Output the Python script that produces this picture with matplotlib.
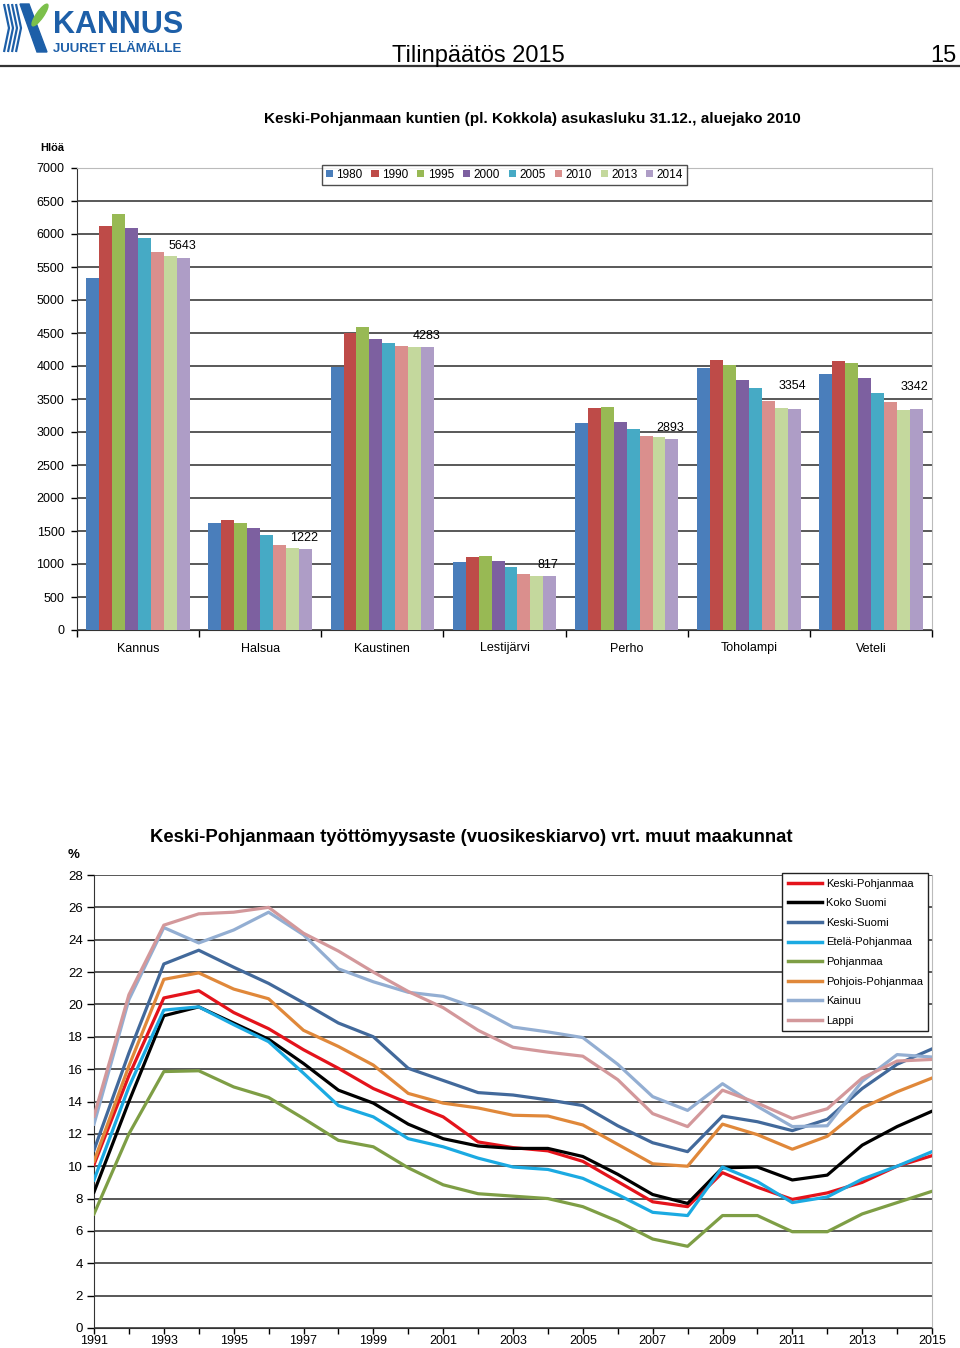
import numpy as np
import matplotlib
matplotlib.use('Agg')
import matplotlib.pyplot as plt
from matplotlib import patches

plt.rcParams['font.family'] = ['Liberation Sans', 'DejaVu Sans']

# --- population by municipality (bar chart) ---
municipalities = ['Kannus', 'Halsua', 'Kaustinen', 'Lestijärvi', 'Perho', 'Toholampi', 'Veteli']
bar_years = ['1980', '1990', '1995', '2000', '2005', '2010', '2013', '2014']
pop_1980 = [5340, 1620, 3985, 1035, 3135, 3970, 3885]
pop_1990 = [6125, 1665, 4500, 1110, 3370, 4085, 4070]
pop_1995 = [6305, 1620, 4585, 1125, 3385, 4010, 4040]
pop_2000 = [6095, 1550, 4405, 1040, 3150, 3795, 3815]
pop_2005 = [5940, 1435, 4350, 955, 3040, 3660, 3585]
pop_2010 = [5730, 1290, 4305, 850, 2940, 3475, 3455]
pop_2013 = [5670, 1235, 4290, 820, 2920, 3370, 3330]
pop_2014 = [5643, 1222, 4283, 817, 2893, 3354, 3342]
bar_colors = ['#4A7EBB', '#BE4B48', '#98B954', '#7D60A0', '#46AAC5', '#DA8F8D', '#C4D89D', '#AE9DC6']
# extra lift (points) for the value labels that Excel pushed up
label_lift = [0, 0, 0, 0, 0, 8, 8]

# --- unemployment rate (line chart) ---
years = [1991, 1992, 1993, 1994, 1995, 1996, 1997, 1998, 1999, 2000, 2001, 2002, 2003,
         2004, 2005, 2006, 2007, 2008, 2009, 2010, 2011, 2012, 2013, 2014, 2015]
keski_pohjanmaa = [10.1, 15.6, 20.4, 20.85, 19.5, 18.5, 17.2, 16.05, 14.8, 13.9, 13.05, 11.5, 11.15,
                   10.95, 10.3, 9.05, 7.8, 7.5, 9.6, 8.7, 7.95, 8.35, 9.0, 10.0, 10.65]
koko_suomi = [8.4, 14.0, 19.3, 19.85, 18.85, 17.85, 16.35, 14.7, 13.9, 12.6, 11.7, 11.25, 11.1,
              11.1, 10.6, 9.5, 8.25, 7.7, 9.9, 9.95, 9.15, 9.45, 11.3, 12.45, 13.4]
keski_suomi = [11.0, 17.0, 22.5, 23.35, 22.3, 21.3, 20.1, 18.85, 18.0, 16.05, 15.3, 14.55, 14.4,
               14.1, 13.75, 12.5, 11.45, 10.9, 13.1, 12.75, 12.2, 12.9, 14.8, 16.3, 17.25]
etela_pohjanmaa = [9.15, 14.9, 19.65, 19.85, 18.75, 17.7, 15.75, 13.75, 13.05, 11.7, 11.2, 10.5, 9.95,
                   9.8, 9.25, 8.25, 7.15, 6.95, 9.95, 9.05, 7.75, 8.1, 9.2, 10.0, 10.9]
pohjanmaa = [7.05, 12.0, 15.85, 15.9, 14.9, 14.25, 12.95, 11.6, 11.2, 9.9, 8.85, 8.3, 8.15,
             8.0, 7.5, 6.6, 5.5, 5.05, 6.95, 6.95, 5.95, 5.95, 7.05, 7.75, 8.45]
pohjois_pohjanmaa = [10.3, 16.2, 21.55, 21.95, 20.95, 20.35, 18.4, 17.4, 16.25, 14.5, 13.9, 13.6, 13.15,
                     13.1, 12.55, 11.35, 10.15, 10.0, 12.6, 11.95, 11.05, 11.85, 13.6, 14.6, 15.45]
kainuu = [12.6, 20.3, 24.75, 23.8, 24.6, 25.7, 24.3, 22.2, 21.4, 20.75, 20.5, 19.75, 18.6,
          18.3, 17.95, 16.3, 14.3, 13.45, 15.1, 13.7, 12.45, 12.5, 15.25, 16.9, 16.75]
lappi = [13.1, 20.6, 24.9, 25.6, 25.7, 26.0, 24.4, 23.3, 22.0, 20.8, 19.8, 18.4, 17.35,
         17.05, 16.8, 15.35, 13.25, 12.45, 14.7, 13.9, 12.95, 13.55, 15.45, 16.5, 16.6]
region_names = ['Keski-Pohjanmaa', 'Koko Suomi', 'Keski-Suomi', 'Etelä-Pohjanmaa',
                'Pohjanmaa', 'Pohjois-Pohjanmaa', 'Kainuu', 'Lappi']
region_colors = ['#E4131B', '#000000', '#42699B', '#1BAAE2', '#7E9E45', '#E0883A', '#93AED2', '#D3989B']

W, H = 960, 1348
fig = plt.figure(figsize=(W / 100, H / 100), dpi=100)

def fx(px):
    return px / W

def fy(py):
    return 1 - py / H

# overlay in pixel coords for the page header / logo
ov = fig.add_axes([0, 0, 1, 1])
ov.set_xlim(0, W)
ov.set_ylim(H, 0)
ov.axis('off')

logo_blue = '#1D5FA8'
for k in range(4):
    x0 = 4 + k * 4
    ov.plot([x0, x0 + 5, x0], [4, 28, 52], color=logo_blue, lw=1.6, solid_capstyle='butt')
ov.add_patch(patches.Polygon([(20, 4), (29, 4), (47, 52), (37, 52)], closed=True, color=logo_blue))
ov.add_patch(patches.Ellipse((40, 15), 7, 26, angle=35, color='#7CC04B'))
ov.text(53, 33, 'KANNUS', fontsize=22, fontweight='bold', color=logo_blue, ha='left', va='baseline')
ov.text(53, 52, 'JUURET ELÄMÄLLE', fontsize=9.5, fontweight='bold', color=logo_blue, ha='left', va='baseline')
ov.text(478, 62, 'Tilinpäätös 2015', fontsize=17, ha='center', va='baseline')
ov.text(957, 62, '15', fontsize=17, ha='right', va='baseline')
ov.plot([0, 960], [65.5, 65.5], color='#333333', lw=1.6)

# --- bar chart ---
ax1 = fig.add_axes([fx(77), fy(630), fx(855), 462 / H])
series = [pop_1980, pop_1990, pop_1995, pop_2000, pop_2005, pop_2010, pop_2013, pop_2014]
x = np.arange(len(municipalities))
n = len(series)
bw = 0.106
for i, (lab, vals, col) in enumerate(zip(bar_years, series, bar_colors)):
    pos = x + (i - (n - 1) / 2) * bw
    ax1.bar(pos, vals, bw, color=col, label=lab, zorder=3)
    if lab == '2014':
        for xi, v, lift in zip(pos, vals, label_lift):
            ax1.annotate(str(v), (xi, v), xytext=(-1, 4 + lift), textcoords='offset points',
                         ha='center', va='bottom', fontsize=9, zorder=4)

ax1.set_xlim(-0.5, len(municipalities) - 0.5)
ax1.set_ylim(0, 7000)
ax1.set_yticks(np.arange(0, 7001, 500))
ax1.tick_params(axis='y', labelsize=9, length=4, width=1, pad=5)
ax1.set_xticks(x)
ax1.set_xticklabels(municipalities)
ax1.set_xticks(np.arange(-0.5, len(municipalities)), minor=True)
ax1.tick_params(axis='x', which='major', length=0, labelsize=9, pad=9)
ax1.tick_params(axis='x', which='minor', length=5, width=1)
ax1.yaxis.grid(True, color='#3c3c3c', lw=1.2, zorder=0)
ax1.set_axisbelow(True)
ax1.spines['top'].set_color('#bbbbbb')
ax1.spines['right'].set_color('#bbbbbb')
ax1.spines['left'].set_color('#333333')
ax1.spines['bottom'].set_color('#333333')
leg1 = ax1.legend(loc='upper center', bbox_to_anchor=(0.5, 1.007), ncol=8, fontsize=8.5,
                  frameon=True, fancybox=False, handlelength=0.6, handleheight=0.6,
                  handletextpad=0.3, columnspacing=0.75, borderpad=0.35, borderaxespad=0)
leg1.get_frame().set_edgecolor('#222222')
leg1.get_frame().set_linewidth(1)

fig.text(fx(532), fy(119), 'Keski-Pohjanmaan kuntien (pl. Kokkola) asukasluku 31.12., aluejako 2010',
         ha='center', va='center', fontsize=11, fontweight='bold')
fig.text(fx(52), fy(148), 'Hlöä', ha='center', va='center', fontsize=8, fontweight='bold')

# --- line chart ---
ax2 = fig.add_axes([fx(94), fy(1328), fx(838), 453 / H])
all_regions = [keski_pohjanmaa, koko_suomi, keski_suomi, etela_pohjanmaa,
               pohjanmaa, pohjois_pohjanmaa, kainuu, lappi]
for name, vals, col in zip(region_names, all_regions, region_colors):
    ax2.plot(years, vals, color=col, lw=2.3, label=name, zorder=3)

ax2.set_xlim(years[0], years[-1])
ax2.set_ylim(0, 28)
ax2.set_yticks(np.arange(0, 29, 2))
ax2.set_xticks(years[::2])
ax2.set_xticks(years, minor=True)
ax2.tick_params(axis='y', labelsize=9.5, length=5, width=1, pad=3)
ax2.tick_params(axis='x', which='both', labelsize=9, length=4, width=1, pad=1)
ax2.yaxis.grid(True, color='#4a4a4a', lw=1.3, zorder=0)
ax2.set_axisbelow(True)
ax2.spines['top'].set_visible(False)
ax2.spines['right'].set_color('#bbbbbb')
ax2.spines['left'].set_color('#333333')
ax2.spines['bottom'].set_color('#333333')
leg2 = ax2.legend(loc='upper right', bbox_to_anchor=(0.9955, 1.004), fontsize=8,
                  frameon=True, fancybox=False, handlelength=3.1, handletextpad=0.3,
                  labelspacing=0.86, borderpad=0.5, borderaxespad=0, framealpha=1)
leg2.get_frame().set_edgecolor('#222222')
leg2.get_frame().set_linewidth(1)
for ln in leg2.get_lines():
    ln.set_linewidth(2.5)

fig.text(fx(471), fy(838), 'Keski-Pohjanmaan työttömyysaste (vuosikeskiarvo) vrt. muut maakunnat',
         ha='center', va='center', fontsize=13.3, fontweight='bold')
fig.text(fx(74), fy(855), '%', ha='center', va='center', fontsize=9.5, fontweight='bold')

fig.savefig('out.png', dpi=100)
